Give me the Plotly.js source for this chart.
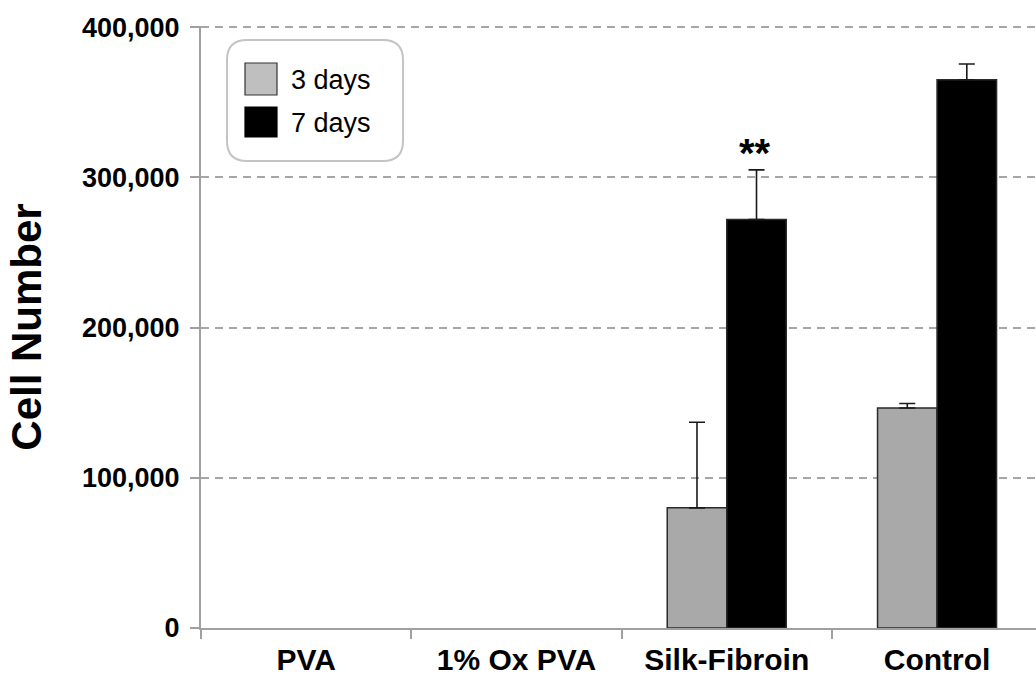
<!DOCTYPE html>
<html>
<head>
<meta charset="utf-8">
<script src="https://cdn.plot.ly/plotly-3.0.1.min.js"></script>
<style>
html,body{margin:0;padding:0;background:#fff;}
#chart{width:1036px;height:675px;}
</style>
</head>
<body>
<div id="chart"></div>
<script>
// ---- data ----
var categories = ["PVA", "1% Ox PVA", "Silk-Fibroin", "Control"];
var seriesNames = ["3 days", "7 days"];
var days3 = [null, null, 80000, 146500];
var days3Err = [null, null, 57000, 3000];
var days7 = [null, null, 272000, 365000];
var days7Err = [null, null, 33000, 10500];
var yTicks = [0, 100000, 200000, 300000, 400000];
var significance = "**";

// ---- geometry helpers (layout only) ----
var W = 1036, H = 675;
var L = 201, R = 1036, T = 26, B = 628;
var yMax = 400800;
function px(p){ return (p - L) / (R - L); }
function py(p){ return (B - p) / (B - T); }

function roundRect(x0, y0, x1, y1, r){
  var rx = r / (R - L), ry = r / (B - T);
  var a = px(x0), b = px(x1), top = py(y0), bot = py(y1);
  return "M" + (a+rx) + "," + top +
    " L" + (b-rx) + "," + top +
    " Q" + b + "," + top + " " + b + "," + (top-ry) +
    " L" + b + "," + (bot+ry) +
    " Q" + b + "," + bot + " " + (b-rx) + "," + bot +
    " L" + (a+rx) + "," + bot +
    " Q" + a + "," + bot + " " + a + "," + (bot+ry) +
    " L" + a + "," + (top-ry) +
    " Q" + a + "," + top + " " + (a+rx) + "," + top + " Z";
}

var barLine = {color: "#2a2a2a", width: 1.5};
var errStyle = {type: "data", symmetric: false, color: "#1a1a1a", thickness: 1.6, width: 8};

var traces = [
  {
    type: "bar", name: seriesNames[0], x: categories, y: days3,
    marker: {color: "#a9a9a9", line: barLine},
    error_y: Object.assign({array: days3Err, arrayminus: [0,0,0,0]}, errStyle),
    showlegend: false, hoverinfo: "x+y"
  },
  {
    type: "bar", name: seriesNames[1], x: categories, y: days7,
    marker: {color: "#000000", line: barLine},
    error_y: Object.assign({array: days7Err, arrayminus: [0,0,0,0]}, errStyle),
    showlegend: false, hoverinfo: "x+y"
  }
];

var shapes = [
  {type: "path", xref: "paper", yref: "paper", path: roundRect(227, 40, 403, 161, 20),
   line: {color: "#c4c4c4", width: 2}, fillcolor: "rgba(255,255,255,1)", layer: "above"},
  {type: "rect", xref: "paper", yref: "paper", x0: px(245), x1: px(277), y0: py(63), y1: py(95),
   fillcolor: "#bfbfbf", line: {color: "#333333", width: 1.2}, layer: "above"},
  {type: "rect", xref: "paper", yref: "paper", x0: px(245), x1: px(277), y0: py(107), y1: py(137),
   fillcolor: "#000000", line: {color: "#000000", width: 1.2}, layer: "above"}
];

var annotations = [
  {xref: "paper", yref: "paper", x: px(289), y: py(80), xanchor: "left", yanchor: "middle",
   text: seriesNames[0], showarrow: false, font: {family: "Liberation Sans, Arial, sans-serif", size: 27, color: "#000"}},
  {xref: "paper", yref: "paper", x: px(289), y: py(123), xanchor: "left", yanchor: "middle",
   text: seriesNames[1], showarrow: false, font: {family: "Liberation Sans, Arial, sans-serif", size: 27, color: "#000"}},
  {xref: "x", yref: "y", x: categories[2], xshift: 28.5, y: days7[2] + days7Err[2] + 11000,
   xanchor: "center", yanchor: "middle", text: significance, showarrow: false,
   font: {family: "Liberation Sans, Arial, sans-serif", size: 40, color: "#000", weight: "bold"}}
];

var layout = {
  width: W, height: H,
  margin: {l: L, r: W - R, t: T, b: H - B, pad: 0},
  paper_bgcolor: "#ffffff", plot_bgcolor: "#ffffff",
  barmode: "group", bargap: 0.434, bargroupgap: 0,
  showlegend: false,
  xaxis: {
    type: "category", categoryorder: "array", categoryarray: categories,
    range: [-0.5, -0.5 + (R - L) / 210.3],
    showline: true, linecolor: "#a0a0a0", linewidth: 2,
    ticks: "outside", tickson: "boundaries", ticklen: 9, tickcolor: "#a0a0a0", tickwidth: 2,
    showgrid: false, zeroline: false,
    tickfont: {family: "Liberation Sans, Arial, sans-serif", size: 30, color: "#000", weight: "bold"},
    ticklabelstandoff: 4
  },
  yaxis: {
    range: [0, yMax], tickvals: yTicks, tickformat: ",d",
    showline: true, linecolor: "#a0a0a0", linewidth: 2,
    ticks: "outside", ticklen: 9, tickcolor: "#a0a0a0", tickwidth: 2,
    showgrid: true, gridcolor: "#a6a6a6", gridwidth: 2, griddash: "8px,6px",
    zeroline: false,
    tickfont: {family: "Liberation Sans, Arial, sans-serif", size: 27, color: "#000", weight: "bold"},
    ticklabelstandoff: 5,
    title: {text: "Cell Number", standoff: 27,
      font: {family: "Liberation Sans, Arial, sans-serif", size: 42, color: "#000", weight: "bold"}}
  },
  shapes: shapes,
  annotations: annotations
};

Plotly.newPlot("chart", traces, layout, {displayModeBar: false, staticPlot: true});
</script>
</body>
</html>
